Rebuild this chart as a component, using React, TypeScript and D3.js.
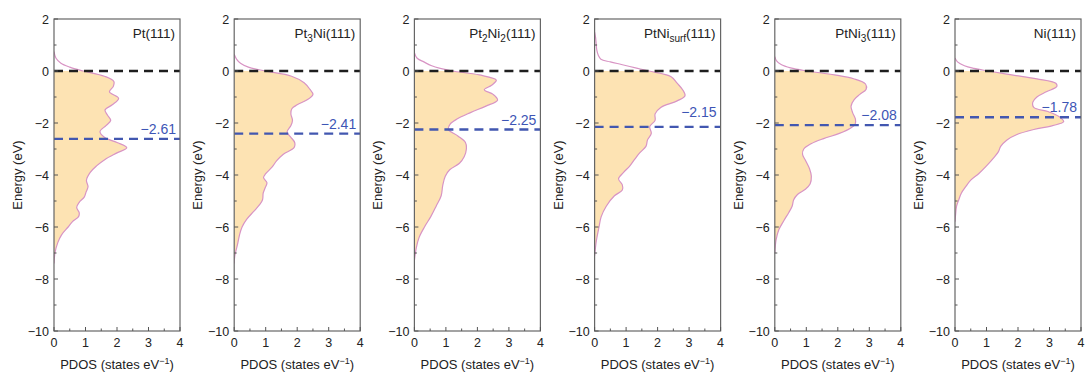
import React from 'react';
import * as d3 from 'd3';

const titles = ['Pt(111)', 'Pt_{3}Ni(111)', 'Pt_{2}Ni_{2}(111)', 'PtNi_{surf}(111)', 'PtNi_{3}(111)', 'Ni(111)'];
const dbandCenters = [-2.61, -2.41, -2.25, -2.15, -2.08, -1.78];
const dbandLabels = ['\u22122.61', '\u22122.41', '\u22122.25', '\u22122.15', '\u22122.08', '\u22121.78'];

const energyPt = [0.75, 0.5, 0.3, 0.15, 0, -0.2, -0.4, -0.6, -0.8, -1.05, -1.3, -1.5, -1.7, -1.9, -2.1, -2.33, -2.55, -2.75, -2.95, -3.15, -3.4, -3.65, -3.9, -4.2, -4.45, -4.65, -4.85, -5.05, -5.25, -5.45, -5.6, -5.8, -6.0, -6.3, -6.6, -7.0, -7.4];
const pdosPt = [0, 0.06, 0.22, 0.5, 0.93, 1.6, 1.9, 1.88, 1.76, 2.05, 1.85, 1.62, 1.7, 1.8, 1.65, 1.46, 1.6, 2.0, 2.31, 2.0, 1.62, 1.35, 1.15, 1.03, 1.08, 1.02, 0.96, 0.8, 0.72, 0.8, 0.78, 0.58, 0.45, 0.24, 0.12, 0.03, 0];

const energyPt3Ni = [0.65, 0.45, 0.3, 0.15, 0, -0.2, -0.45, -0.7, -0.9, -1.1, -1.3, -1.45, -1.65, -1.9, -2.1, -2.35, -2.55, -2.75, -2.95, -3.2, -3.45, -3.7, -3.95, -4.1, -4.3, -4.5, -4.7, -4.95, -5.15, -5.4, -5.7, -6.0, -6.3, -6.7, -7.1, -7.4];
const pdosPt3Ni = [0, 0.08, 0.2, 0.45, 0.98, 1.82, 2.22, 2.4, 2.5, 2.33, 2.0, 1.83, 1.8, 1.85, 1.8, 1.68, 1.8, 1.92, 1.9, 1.56, 1.35, 1.2, 1.0, 0.93, 1.04, 0.98, 0.92, 0.9, 0.8, 0.62, 0.4, 0.25, 0.17, 0.1, 0.02, 0];

const energyPt2Ni2 = [0.7, 0.5, 0.35, 0.2, 0.1, 0, -0.15, -0.35, -0.55, -0.72, -0.9, -1.12, -1.35, -1.6, -1.85, -2.05, -2.25, -2.5, -2.75, -3.0, -3.3, -3.55, -3.8, -4.05, -4.4, -4.8, -5.2, -5.6, -6.0, -6.4, -6.8, -7.3];
const pdosPt2Ni2 = [0, 0.08, 0.3, 0.55, 0.82, 1.2, 2.06, 2.6, 2.45, 2.22, 2.5, 2.64, 2.27, 1.78, 1.35, 1.13, 1.08, 1.38, 1.62, 1.65, 1.58, 1.43, 1.12, 0.98, 0.9, 0.85, 0.69, 0.52, 0.32, 0.15, 0.06, 0];

const energyPtNiSurf = [1.5, 1.3, 1.06, 0.8, 0.6, 0.45, 0.35, 0.25, 0.12, 0, -0.22, -0.47, -0.73, -0.95, -1.15, -1.4, -1.65, -1.9, -2.14, -2.4, -2.65, -2.9, -3.15, -3.4, -3.65, -3.9, -4.15, -4.38, -4.58, -4.8, -5.2, -5.6, -6.0, -6.5, -7.1];
const pdosPtNiSurf = [0, 0.03, 0.05, 0.07, 0.12, 0.2, 0.5, 0.85, 1.3, 1.72, 2.43, 2.62, 2.8, 2.87, 2.62, 2.1, 1.92, 1.92, 1.75, 1.8, 1.68, 1.63, 1.43, 1.27, 1.12, 0.92, 0.76, 0.88, 0.88, 0.63, 0.37, 0.21, 0.14, 0.06, 0];

const energyPtNi3 = [0.55, 0.4, 0.25, 0.12, 0, -0.15, -0.3, -0.5, -0.7, -0.9, -1.1, -1.35, -1.6, -1.85, -2.05, -2.2, -2.4, -2.6, -2.8, -3.0, -3.2, -3.45, -3.75, -4.05, -4.35, -4.55, -4.75, -4.95, -5.2, -5.45, -5.75, -6.1, -6.5, -7.0];
const pdosPtNi3 = [0, 0.05, 0.2, 0.5, 1.03, 1.9, 2.5, 2.88, 2.9, 2.7, 2.52, 2.42, 2.47, 2.56, 2.55, 2.4, 2.05, 1.55, 1.15, 0.92, 0.88, 0.98, 1.1, 1.16, 1.12, 0.97, 0.72, 0.6, 0.55, 0.44, 0.29, 0.13, 0.04, 0];

const energyNi = [0.5, 0.35, 0.2, 0.1, 0, -0.15, -0.3, -0.47, -0.6, -0.8, -1.0, -1.2, -1.4, -1.56, -1.75, -1.95, -2.1, -2.25, -2.45, -2.65, -2.9, -3.1, -3.35, -3.65, -3.95, -4.2, -4.45, -4.7, -4.95, -5.2, -5.5, -5.8];
const pdosNi = [0, 0.08, 0.3, 0.6, 1.06, 1.8, 2.6, 3.2, 3.23, 2.9, 2.6, 2.47, 2.5, 2.95, 3.3, 3.45, 3.1, 2.5, 1.95, 1.65, 1.45, 1.38, 1.22, 1.0, 0.75, 0.5, 0.34, 0.2, 0.12, 0.05, 0.02, 0];

const energies = [energyPt, energyPt3Ni, energyPt2Ni2, energyPtNiSurf, energyPtNi3, energyNi];
const pdosValues = [pdosPt, pdosPt3Ni, pdosPt2Ni2, pdosPtNiSurf, pdosPtNi3, pdosNi];

const yTicks = [2, 0, -2, -4, -6, -8, -10];
const yMinorTicks = [1, -1, -3, -5, -7, -9];
const xTicks = [0, 1, 2, 3, 4];
const xMinorTicks = [0.5, 1.5, 2.5, 3.5];

const W = 1086;
const H = 374;
const LEFT0 = 54;
const STEP = 180.2;
const PW = 126;
const TOP = 19;
const BOTTOM = 331;
const FONT = 'Liberation Sans, Arial, Helvetica, sans-serif';

function fmt(v: number) {
  return v < 0 ? '\u2212' + Math.abs(v) : String(v);
}

function Title({ text, x, y }: { text: string; x: number; y: number }) {
  const parts: { t: string; sub: boolean }[] = [];
  const re = /_\{([^}]*)\}/g;
  let last = 0;
  let m;
  while ((m = re.exec(text)) !== null) {
    if (m.index > last) parts.push({ t: text.slice(last, m.index), sub: false });
    parts.push({ t: m[1], sub: true });
    last = m.index + m[0].length;
  }
  if (last < text.length) parts.push({ t: text.slice(last), sub: false });
  let prevSub = false;
  return (
    <text x={x} y={y} textAnchor="end" fontFamily={FONT} fontSize={13.5} fill="#222">
      {parts.map((p, i) => {
        let dy = 0;
        if (p.sub && !prevSub) dy = 4;
        else if (!p.sub && prevSub) dy = -4;
        prevSub = p.sub;
        return (
          <tspan key={i} dy={dy} fontSize={p.sub ? 10 : 13.5}>
            {p.t}
          </tspan>
        );
      })}
    </text>
  );
}

function Panel({ idx }: { idx: number }) {
  const x = d3.scaleLinear().domain([0, 4]).range([0, PW]);
  const y = d3.scaleLinear().domain([-10, 2]).range([BOTTOM, TOP]);
  const data: [number, number][] = energies[idx].map((e, i) => [e, pdosValues[idx][i]]);
  const curve = d3.curveCatmullRom.alpha(0.5);
  const area = d3
    .area<[number, number]>()
    .y((d) => y(d[0]))
    .x0(x(0))
    .x1((d) => x(Math.max(0, d[1])))
    .curve(curve);
  const line = d3
    .line<[number, number]>()
    .y((d) => y(d[0]))
    .x((d) => x(Math.max(0, d[1])))
    .curve(curve);
  const left = LEFT0 + STEP * idx;
  const clipFill = `fillclip${idx}`;
  const clipFrame = `frameclip${idx}`;
  const dc = dbandCenters[idx];
  const labelDy = idx === 3 ? 10 : 5;
  return (
    <g transform={`translate(${left},0)`}>
      <defs>
        <clipPath id={clipFill}>
          <rect x={0} y={y(0)} width={PW} height={BOTTOM - y(0)} />
        </clipPath>
        <clipPath id={clipFrame}>
          <rect x={0} y={TOP} width={PW} height={BOTTOM - TOP} />
        </clipPath>
      </defs>
      <g clipPath={`url(#${clipFrame})`}>
        <path d={area(data) || ''} fill="#fde3b3" clipPath={`url(#${clipFill})`} />
        <path d={line(data) || ''} fill="none" stroke="#d894c4" strokeWidth={1.2} />
        <line x1={x(0)} x2={x(4)} y1={y(0)} y2={y(0)} stroke="#1e1e1e" strokeWidth={2.6} strokeDasharray="9,6" />
        <line x1={x(0)} x2={x(4)} y1={y(dc)} y2={y(dc)} stroke="#4257b0" strokeWidth={2.4} strokeDasharray="9,6" />
      </g>
      <rect x={0} y={TOP} width={PW} height={BOTTOM - TOP} fill="none" stroke="#666" strokeWidth={1.2} />
      {yTicks.map((t) => (
        <g key={'y' + t}>
          <line x1={0} x2={4} y1={y(t)} y2={y(t)} stroke="#555" strokeWidth={1} />
          <text x={-5} y={y(t) + 4.5} textAnchor="end" fontFamily={FONT} fontSize={12.5} fill="#222">
            {fmt(t)}
          </text>
        </g>
      ))}
      {yMinorTicks.map((t) => (
        <line key={'ym' + t} x1={0} x2={2.5} y1={y(t)} y2={y(t)} stroke="#555" strokeWidth={1} />
      ))}
      {xTicks.map((t) => (
        <g key={'x' + t}>
          <line x1={x(t)} x2={x(t)} y1={BOTTOM} y2={BOTTOM - 4} stroke="#555" strokeWidth={1} />
          <text x={x(t)} y={BOTTOM + 16} textAnchor="middle" fontFamily={FONT} fontSize={12.5} fill="#222">
            {t}
          </text>
        </g>
      ))}
      {xMinorTicks.map((t) => (
        <line key={'xm' + t} x1={x(t)} x2={x(t)} y1={BOTTOM} y2={BOTTOM - 2.5} stroke="#555" strokeWidth={1} />
      ))}
      <Title text={titles[idx]} x={PW - 5} y={38} />
      <text x={PW - 4} y={y(dc) - labelDy} textAnchor="end" fontFamily={FONT} fontSize={14} fill="#3d55b5">
        {dbandLabels[idx]}
      </text>
      <text x={PW / 2} y={369} textAnchor="middle" fontFamily={FONT} fontSize={13} fill="#222">
        PDOS (states eV
        <tspan dy={-5} fontSize={9}>{'\u22121'}</tspan>
        <tspan dy={5}>)</tspan>
      </text>
      <text
        transform={`translate(-32,${(TOP + BOTTOM) / 2}) rotate(-90)`}
        textAnchor="middle"
        fontFamily={FONT}
        fontSize={13}
        fill="#222"
      >
        Energy (eV)
      </text>
    </g>
  );
}

export default function App() {
  return (
    <svg
      width={W}
      height={H}
      viewBox={`0 0 ${W} ${H}`}
      style={{ position: 'absolute', left: 0, top: 0, background: '#fff' }}
    >
      <rect x={0} y={0} width={W} height={H} fill="#fff" />
      {titles.map((_, i) => (
        <Panel key={i} idx={i} />
      ))}
    </svg>
  );
}
